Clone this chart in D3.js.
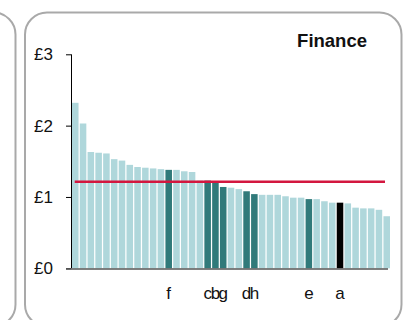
<!DOCTYPE html>
<html>
<head>
<meta charset="utf-8">
<script src="https://cdn.jsdelivr.net/npm/d3@7"></script>
<style>
  html, body { margin: 0; padding: 0; background: #fff; }
  svg { display: block; }
  text { font-family: "Liberation Sans", Arial, sans-serif; }
</style>
</head>
<body>
<svg id="chart" width="405" height="320"></svg>
<script>
// ---- data ----
const values = [2.32, 2.03, 1.63, 1.62, 1.61, 1.53, 1.51, 1.45, 1.42, 1.41,
                1.40, 1.39, 1.38, 1.38, 1.36, 1.35, 1.23, 1.23, 1.22, 1.14,
                1.13, 1.11, 1.08, 1.04, 1.03, 1.03, 1.03, 1.01, 0.99, 0.99,
                0.97, 0.97, 0.94, 0.92, 0.92, 0.91, 0.85, 0.84, 0.84, 0.82, 0.73];
const labels = ["", "", "", "", "", "", "", "", "", "",
                "", "", "f", "", "", "", "", "c", "b", "g",
                "", "", "d", "h", "", "", "", "", "", "",
                "e", "", "", "", "a", "", "", "", "", "", ""];
// group: 0 = other, 1 = highlighted, 2 = selected
const groups = labels.map(l => l === "" ? 0 : (l === "a" ? 2 : 1));
const average = 1.215;
const yTicks = [0, 1, 2, 3];
const yTickLabels = ["£0", "£1", "£2", "£3"];
const title = "Finance";

const colors = ["#afd7db", "#307a7a", "#000000"];

const svg = d3.select("#chart");

// panels
svg.append("rect")
  .attr("x", -40).attr("y", 12.5).attr("width", 55.5).attr("height", 314)
  .attr("rx", 22).attr("ry", 22)
  .attr("fill", "none").attr("stroke", "#a9a9a9").attr("stroke-width", 2);
svg.append("rect")
  .attr("x", 25).attr("y", 12.5).attr("width", 376.5).attr("height", 314)
  .attr("rx", 22).attr("ry", 22)
  .attr("fill", "none").attr("stroke", "#a9a9a9").attr("stroke-width", 2);

const x = d3.scaleBand()
  .domain(d3.range(values.length))
  .range([72, 390])
  .paddingInner(0.16)
  .paddingOuter(0);

const y = d3.scaleLinear().domain([0, 3]).range([268.3, 54.3]);

// bars
svg.append("g").selectAll("rect")
  .data(values)
  .join("rect")
  .attr("x", (d, i) => x(i))
  .attr("width", x.bandwidth())
  .attr("y", d => y(d))
  .attr("height", d => y(0) - y(d))
  .attr("fill", (d, i) => colors[groups[i]]);

// average line
svg.append("line")
  .attr("x1", 74.7).attr("x2", 385)
  .attr("y1", y(average)).attr("y2", y(average))
  .attr("stroke", "#d3173f").attr("stroke-width", 2.5);

// y axis
const yAxis = d3.axisLeft(y)
  .tickValues(yTicks)
  .tickFormat((d, i) => yTickLabels[i])
  .tickSize(5)
  .tickPadding(13);
const gy = svg.append("g").attr("transform", "translate(71,0)").call(yAxis);
gy.select(".domain").attr("stroke", "#000").attr("d", `M0.5,${y(3)}V${y(0)}`);
gy.selectAll(".tick line").attr("stroke", "#000");
gy.selectAll(".tick text")
  .attr("fill", "#111")
  .style("font-size", "17px")
  .style("font-family", "'Liberation Sans', Arial, sans-serif");

// baseline
svg.append("line")
  .attr("x1", 66).attr("x2", 388)
  .attr("y1", 269).attr("y2", 269)
  .attr("stroke", "#555").attr("stroke-width", 1.5);

// category labels
svg.append("g").selectAll("text")
  .data(labels.map((l, i) => ({ l, i })).filter(d => d.l !== ""))
  .join("text")
  .attr("x", d => x(d.i) + x.bandwidth() / 2)
  .attr("y", 299)
  .attr("text-anchor", "middle")
  .style("font-size", "17px")
  .attr("fill", "#111")
  .text(d => d.l);

// title
svg.append("text")
  .attr("x", 367).attr("y", 47)
  .attr("text-anchor", "end")
  .style("font-size", "18.5px")
  .style("font-weight", "bold")
  .attr("fill", "#111")
  .text(title);
</script>
</body>
</html>
